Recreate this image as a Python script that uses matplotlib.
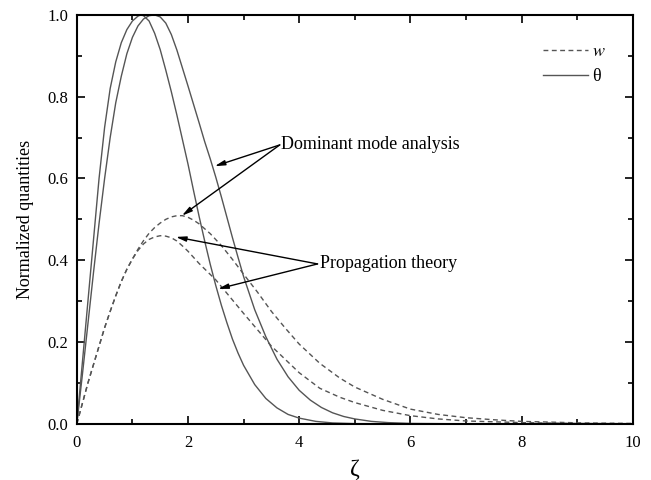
import numpy as np
import matplotlib.pyplot as plt
from matplotlib.ticker import MultipleLocator

plt.rcParams["font.family"] = ["Liberation Serif", "DejaVu Serif"]
plt.rcParams["mathtext.fontset"] = "stix"

# theta, propagation theory (peak near 1.15)
zeta_theta_prop = [0, 0.1, 0.2, 0.3, 0.4, 0.5, 0.6, 0.7, 0.8, 0.9, 1.0, 1.1,
                   1.15, 1.2, 1.3, 1.4, 1.5, 1.6, 1.7, 1.8, 1.9, 2.0, 2.1,
                   2.2, 2.3, 2.4, 2.5, 2.6, 2.7, 2.8, 2.9, 3.0, 3.2, 3.4,
                   3.6, 3.8, 4.0, 4.3, 4.6, 5.0, 6.0, 10.0]
theta_prop = [0, 0.15, 0.3, 0.45, 0.6, 0.725, 0.82, 0.885, 0.932, 0.964,
              0.985, 0.997, 1.0, 0.998, 0.985, 0.955, 0.915, 0.865, 0.812,
              0.755, 0.695, 0.635, 0.57, 0.507, 0.447, 0.39, 0.338, 0.29,
              0.247, 0.207, 0.173, 0.143, 0.096, 0.062, 0.039, 0.023,
              0.014, 0.006, 0.0022, 0.0005, 0, 0]

# theta, dominant mode analysis (peak near 1.4)
zeta_theta_dom = [0, 0.1, 0.2, 0.3, 0.4, 0.5, 0.6, 0.7, 0.8, 0.9, 1.0, 1.1,
                  1.2, 1.3, 1.4, 1.5, 1.6, 1.7, 1.8, 1.9, 2.0, 2.1, 2.2,
                  2.3, 2.4, 2.5, 2.6, 2.7, 2.8, 2.9, 3.0, 3.2, 3.4, 3.6,
                  3.8, 4.0, 4.2, 4.4, 4.6, 4.8, 5.0, 5.3, 5.6, 6.0, 7.0,
                  10.0]
theta_dom = [0, 0.12, 0.245, 0.37, 0.49, 0.6, 0.7, 0.785, 0.85, 0.905,
             0.945, 0.973, 0.99, 0.998, 1.0, 0.995, 0.98, 0.952, 0.914,
             0.87, 0.826, 0.781, 0.736, 0.69, 0.648, 0.603, 0.555, 0.505,
             0.455, 0.407, 0.36, 0.279, 0.213, 0.158, 0.115, 0.082, 0.058,
             0.04, 0.027, 0.018, 0.012, 0.006, 0.003, 0.001, 0, 0]

# w, propagation theory
zeta_w_prop = [0, 0.1, 0.2, 0.3, 0.4, 0.5, 0.6, 0.7, 0.8, 0.9, 1.0, 1.1,
               1.2, 1.3, 1.4, 1.5, 1.6, 1.7, 1.8, 1.9, 2.0, 2.2, 2.5, 3.0,
               3.5, 4.0, 4.37, 4.73, 5.0, 5.5, 6.0, 6.5, 7.0, 7.5, 8.0,
               9.0, 10.0]
w_prop = [0, 0.05, 0.1, 0.145, 0.19, 0.235, 0.275, 0.313, 0.348, 0.378,
          0.403, 0.424, 0.44, 0.451, 0.457, 0.46, 0.459, 0.455, 0.447,
          0.435, 0.422, 0.392, 0.352, 0.27, 0.19, 0.125, 0.087, 0.065,
          0.052, 0.033, 0.02, 0.012, 0.007, 0.005, 0.003, 0.001, 0.0004]

# w, dominant mode analysis
zeta_w_dom = [0, 0.1, 0.2, 0.3, 0.4, 0.5, 0.6, 0.7, 0.8, 0.9, 1.0, 1.1,
              1.2, 1.3, 1.4, 1.5, 1.6, 1.7, 1.8, 1.9, 2.0, 2.1, 2.2, 2.4,
              2.6, 2.8, 3.0, 3.25, 3.5, 3.75, 4.0, 4.37, 4.73, 5.0, 5.5,
              6.0, 6.5, 7.0, 7.5, 8.0, 9.0, 10.0]
w_dom = [0, 0.05, 0.1, 0.145, 0.19, 0.235, 0.275, 0.313, 0.348, 0.378,
         0.403, 0.427, 0.448, 0.466, 0.48, 0.491, 0.5, 0.506, 0.509, 0.509,
         0.505, 0.498, 0.489, 0.465, 0.436, 0.402, 0.366, 0.322, 0.275,
         0.234, 0.195, 0.148, 0.112, 0.09, 0.06, 0.036, 0.023, 0.015,
         0.01, 0.006, 0.0025, 0.001]

line_color = "#555555"
dash_style = (0, (3.5, 2.5))

fig = plt.figure(figsize=(6.51, 4.80), dpi=100)
ax = fig.add_axes((0.118, 0.117, 0.854, 0.852))

ax.plot(zeta_w_prop, w_prop, color=line_color, lw=1.0, linestyle=dash_style)
ax.plot(zeta_w_dom, w_dom, color=line_color, lw=1.0, linestyle=dash_style)
ax.plot(zeta_theta_prop, theta_prop, color=line_color, lw=1.0)
ax.plot(zeta_theta_dom, theta_dom, color=line_color, lw=1.0)

# legend handles
leg_w, = ax.plot([], [], color=line_color, lw=1.0, linestyle=dash_style)
leg_t, = ax.plot([], [], color=line_color, lw=1.0)
ax.legend([leg_w, leg_t], [r"$w$", "θ"], loc="upper right",
          bbox_to_anchor=(0.967, 0.953), frameon=False, fontsize=13,
          handlelength=2.5, handletextpad=0.2, labelspacing=0.45,
          borderpad=0.0)

arrow_kw = dict(arrowstyle="-|>,head_length=0.6,head_width=0.15",
                color="black", lw=1.0, shrinkA=0, shrinkB=0)
ax.annotate("", xy=(2.48, 0.63), xytext=(3.65, 0.682), arrowprops=arrow_kw)
ax.annotate("", xy=(1.89, 0.509), xytext=(3.65, 0.682), arrowprops=arrow_kw)
ax.text(3.68, 0.682, "Dominant mode analysis", fontsize=13,
        ha="left", va="center")

ax.annotate("", xy=(1.78, 0.457), xytext=(4.33, 0.391), arrowprops=arrow_kw)
ax.annotate("", xy=(2.54, 0.33), xytext=(4.33, 0.391), arrowprops=arrow_kw)
ax.text(4.38, 0.391, "Propagation theory", fontsize=13,
        ha="left", va="center")

ax.set_xlim(0, 10)
ax.set_ylim(0, 1.0)
ax.xaxis.set_major_locator(MultipleLocator(2))
ax.xaxis.set_minor_locator(MultipleLocator(1))
ax.yaxis.set_major_locator(MultipleLocator(0.2))
ax.yaxis.set_minor_locator(MultipleLocator(0.1))
ax.yaxis.set_major_formatter(plt.FuncFormatter(lambda v, p: f"{v:.1f}"))
ax.tick_params(which="both", direction="in", top=True, right=True,
               labelsize=12, width=1.2)
ax.tick_params(which="major", length=6)
ax.tick_params(which="minor", length=3.5)
ax.tick_params(axis="y", which="major", pad=6)
ax.tick_params(axis="x", which="major", pad=8)
for s in ax.spines.values():
    s.set_linewidth(1.5)

ax.set_xlabel("ζ", fontsize=17, labelpad=6)
ax.set_ylabel("Normalized quantities", fontsize=13, labelpad=10)

fig.savefig("out.png", dpi=100)
